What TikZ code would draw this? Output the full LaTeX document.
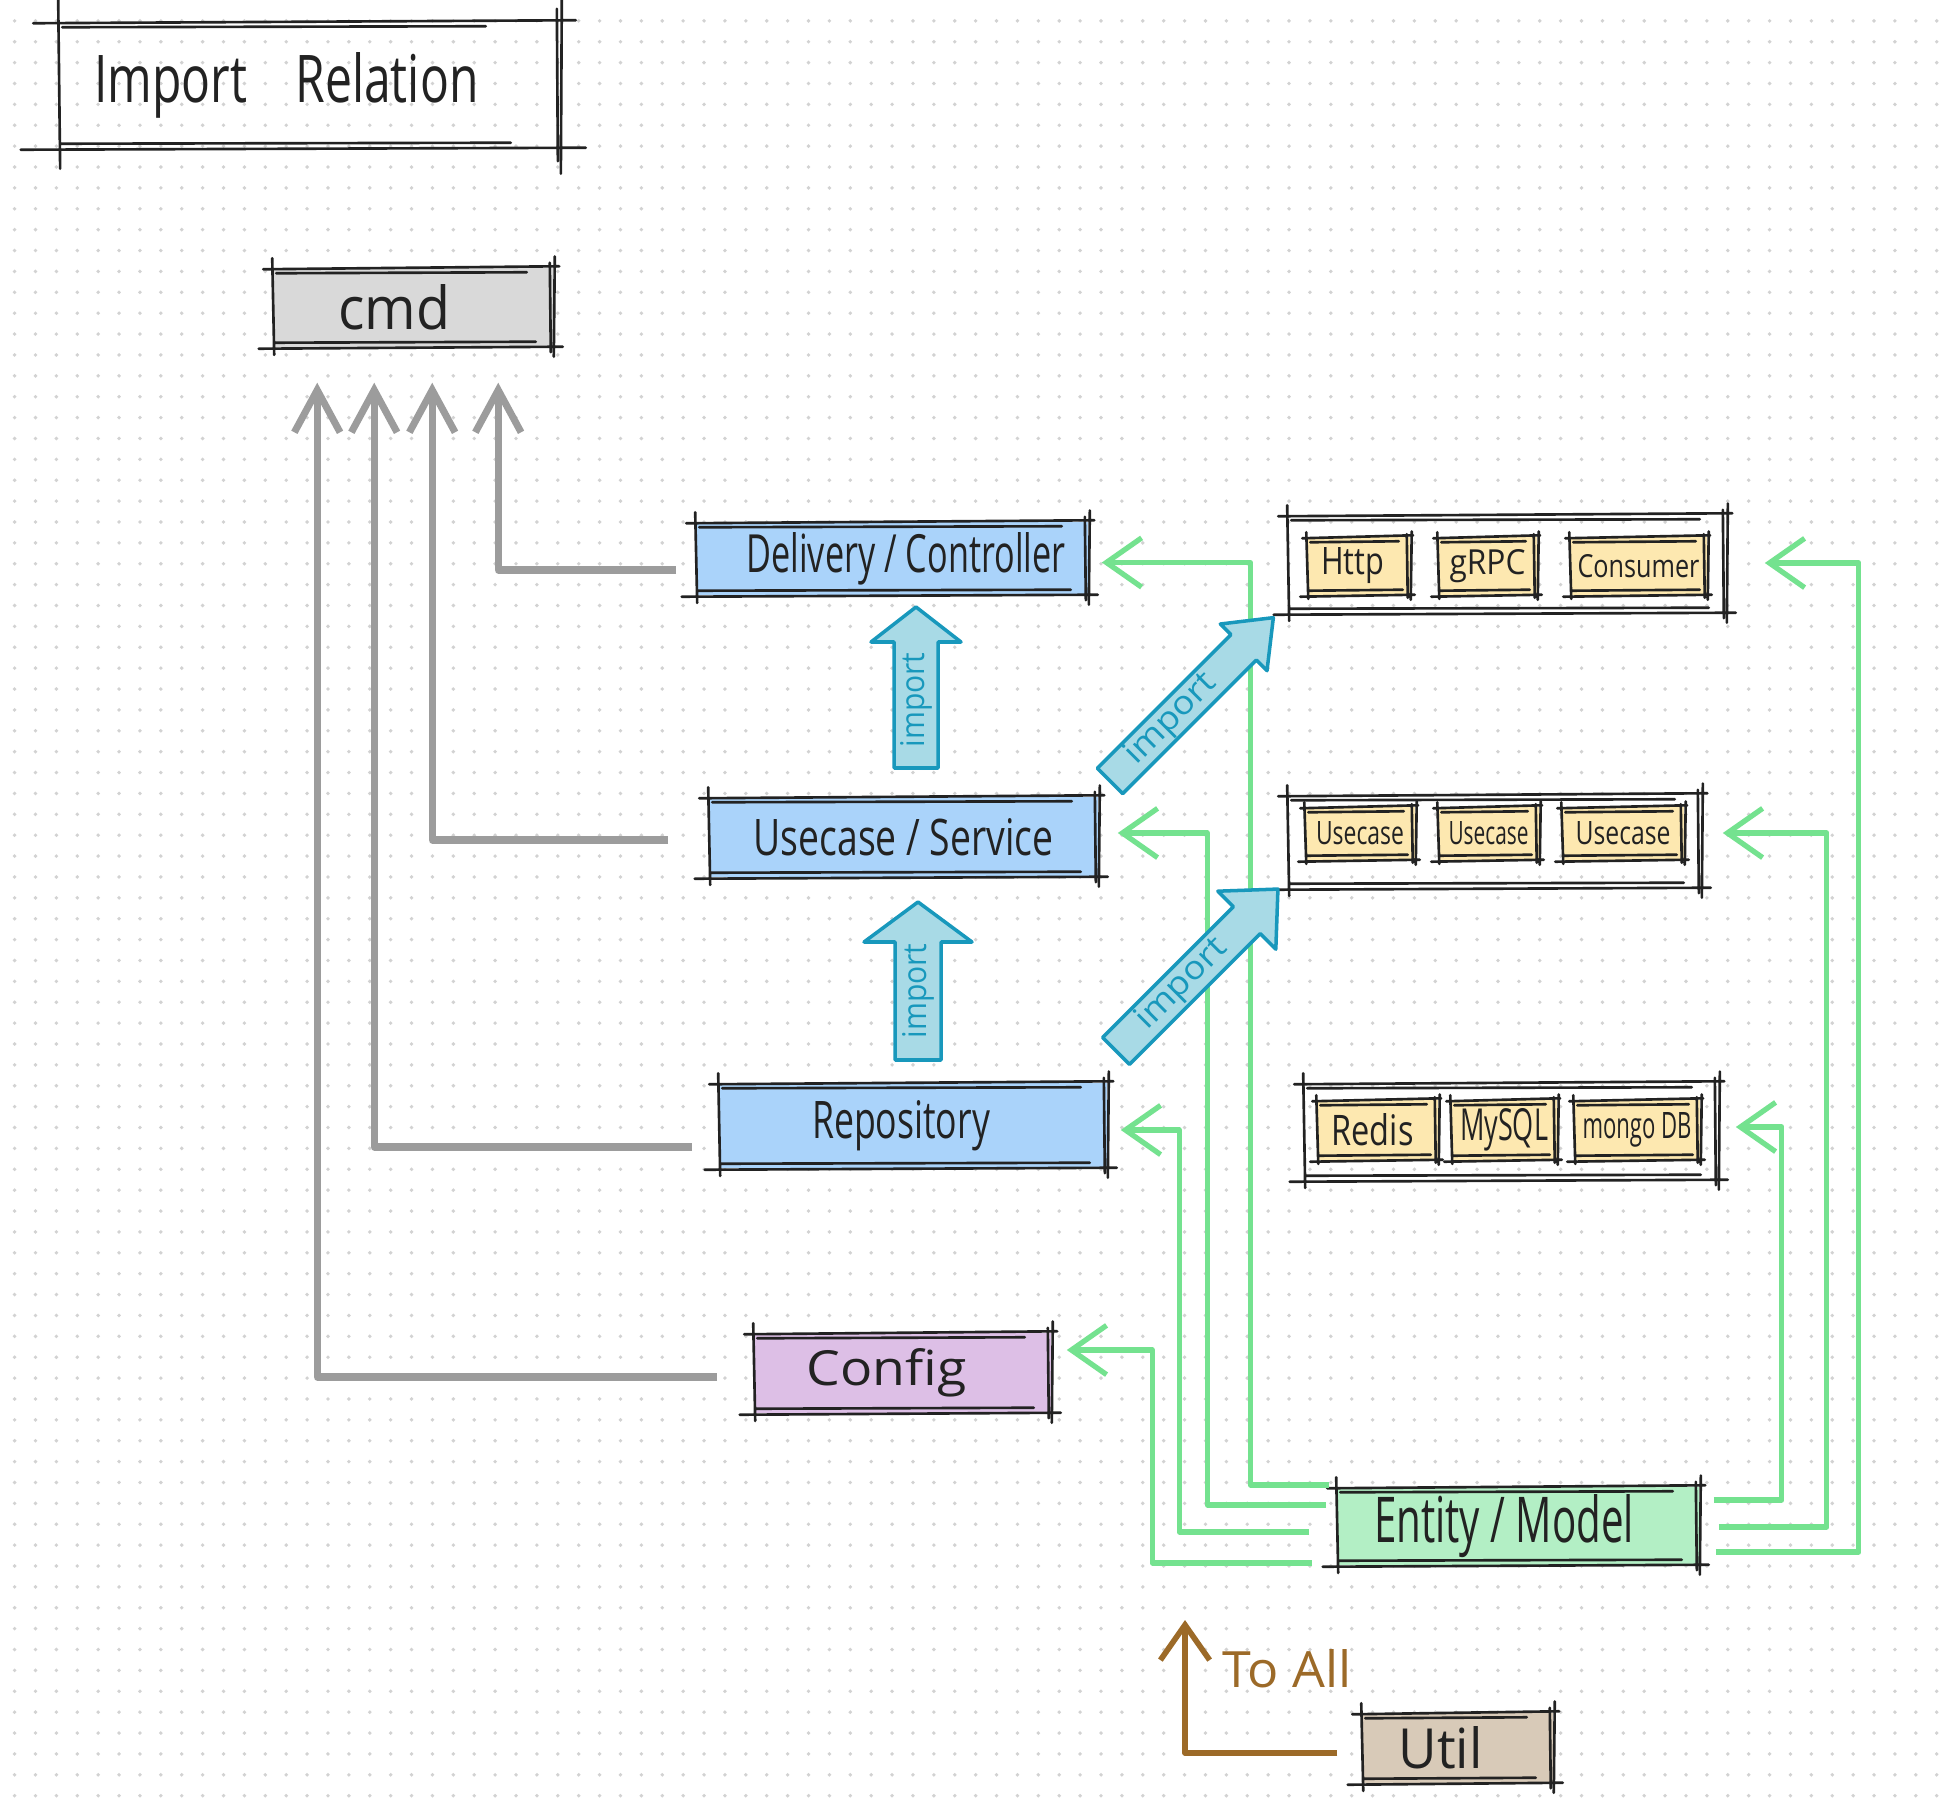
\documentclass[tikz,border=0pt]{standalone}
\usepackage{graphicx}
\usepackage{fontspec}
\setmainfont{Open Sans}
\usetikzlibrary{calc,arrows.meta}

\definecolor{ink}{HTML}{222222}
\definecolor{hlblue}{HTML}{AAD3FA}
\definecolor{hlgray}{HTML}{D9D9D9}
\definecolor{hlpurple}{HTML}{DDBFE6}
\definecolor{hlgreen}{HTML}{B3EFC5}
\definecolor{hlyellow}{HTML}{FDE8B0}
\definecolor{hltan}{HTML}{D8CAB8}
\definecolor{usegray}{HTML}{9C9C9C}
\definecolor{depgreen}{HTML}{74E28F}
\definecolor{allbrown}{HTML}{9C6A28}
\definecolor{impfill}{HTML}{A8DAE6}
\definecolor{impline}{HTML}{1898BC}
\definecolor{dotgray}{HTML}{D2D2D2}

\newlength\pxu
\setlength\pxu{0.01cm}
% handwritten-ish label squeezed to width x height (in px), [#1] shifts it sideways
\newcommand\hand[4][0]{\kern#1\pxu\kern#1\pxu\resizebox{#2\pxu}{#3\pxu}{#4}}

% sketchy double-lined frame round a node, #1 = overshoot
\newcommand\sketchframe[2][8]{%
  \draw[frame] ($(#2.north west)+(-#1,2)$) -- ($(#2.north east)+(0.6*#1,-1)$)
               ($(#2.north west)+(4,6)$) -- ($(#2.north east)+(-3*#1,5)$)
               ($(#2.south west)+(-1.5*#1,1)$) -- ($(#2.south east)+(#1,-1)$)
               ($(#2.south west)+(3,-5)$) -- ($(#2.south east)+(-2*#1,-6)$)
               ($(#2.north west)+(0,-#1)$) -- ($(#2.south west)+(2,0.8*#1)$)
               ($(#2.north east)+(1,-1.2*#1)$) -- ($(#2.south east)+(0,#1)$)
               ($(#2.north east)+(-4,-0.5*#1)$) -- ($(#2.south east)+(-3,0.5*#1)$);
}

% fat "import" arrow: base, angle, length, half shaft, half head, head length, text pos, text width
\newcommand\importarrow[8]{%
  \begin{scope}[shift={(#1)},rotate=#2]
    \draw[imparrow] (0,-#4) -- (#3-#6,-#4) -- (#3-#6,-#5) -- (#3,0)
      -- (#3-#6,#5) -- (#3-#6,#4) -- (0,#4) -- cycle;
    \node[imptext,transform shape] at (#7,0) {\hand{#8}{24}{import}};
  \end{scope}
}

\tikzset{
  box/.style={inner sep=0pt, text=ink},
  layer/.style={box, fill=hlblue},
  cmdbox/.style={box, fill=hlgray},
  cfgbox/.style={box, fill=hlpurple},
  entbox/.style={box, fill=hlgreen},
  utilbox/.style={box, fill=hltan},
  impl/.style={box, fill=hlyellow},
  frame/.style={draw=ink, line width=0.75pt, line cap=round},
  uses/.style={draw=usegray, line width=2pt, line join=round,
               -{Straight Barb[length=12pt,width=13pt]}},
  dep/.style={draw=depgreen, line width=1.5pt, line join=round,
              -{Straight Barb[length=10pt,width=14pt]}},
  toall/.style={draw=allbrown, line width=1.6pt, line join=round,
                -{Straight Barb[length=10pt,width=14pt]}},
  imparrow/.style={fill=impfill, draw=impline, line width=1pt, line join=round},
  imptext/.style={inner sep=0pt, text=impline},
  dotrow/.style={draw=dotgray, line width=1.1pt, line cap=round,
                 dash pattern=on 0pt off 0.2088cm}
}

\begin{document}
\begin{tikzpicture}[x=0.01cm,y=-0.01cm]
  \useasboundingbox (0,0) rectangle (1943,1813);
  \fill[white] (0,0) rectangle (1943,1813);
  \foreach \r in {1,...,86}
    \draw[dotrow] (14.6,\r*20.88) -- (1943,\r*20.88);

  % title and layers
  \node[box,minimum width=5.01cm,minimum height=1.26cm] (title) at (309.5,85)
    {\hand[-23]{384}{50}{Import\quad Relation}};
  \node[cmdbox,minimum width=2.80cm,minimum height=0.79cm] (cmd) at (413,307.5)
    {\hand[-19]{112}{45}{cmd}};
  \node[layer,minimum width=3.92cm,minimum height=0.73cm] (deliv) at (892,558.5)
    {\hand[14]{319}{40}{Delivery / Controller}};
  \node[layer,minimum width=3.89cm,minimum height=0.80cm] (usecase) at (903.5,837)
    {\hand{300}{37}{Usecase / Service}};
  \node[layer,minimum width=3.88cm,minimum height=0.85cm] (repo) at (913,1125.5)
    {\hand[-12]{178}{38}{Repository}};
  \node[cfgbox,minimum width=2.97cm,minimum height=0.80cm] (config) at (902.5,1373)
    {\hand[-16]{160}{37}{Config}};
  \node[entbox,minimum width=3.62cm,minimum height=0.78cm] (entity) at (1518,1526)
    {\hand[-14]{260}{48}{Entity / Model}};
  \node[utilbox,minimum width=1.91cm,minimum height=0.70cm] (util) at (1457.5,1748)
    {\hand[-17]{84}{42}{Util}};

  % implementations
  \node[box,minimum width=4.38cm,minimum height=0.98cm] (ifaces) at (1507,564) {};
  \node[impl,minimum width=1.03cm,minimum height=0.58cm] (http) at (1358.5,566)
    {\hand[-6]{63}{27}{Http}};
  \node[impl,minimum width=0.99cm,minimum height=0.58cm] (grpc) at (1487.5,566)
    {\hand{76}{25}{gRPC}};
  \node[impl,minimum width=1.37cm,minimum height=0.58cm] (consumer) at (1638.5,566)
    {\hand{122}{23}{Consumer}};

  \node[box,minimum width=4.13cm,minimum height=0.93cm] (ucases) at (1494.5,841.5) {};
  \node[impl,minimum width=1.10cm,minimum height=0.53cm] (uc1) at (1360,833.5)
    {\hand{88}{23}{Usecase}};
  \node[impl,minimum width=1.01cm,minimum height=0.53cm] (uc2) at (1488.5,833.5)
    {\hand{80}{23}{Usecase}};
  \node[impl,minimum width=1.22cm,minimum height=0.53cm] (uc3) at (1623,833.5)
    {\hand{95}{23}{Usecase}};

  \node[box,minimum width=4.14cm,minimum height=0.97cm] (stores) at (1511,1131.5) {};
  \node[impl,minimum width=1.21cm,minimum height=0.60cm] (redis) at (1377.5,1130)
    {\hand[-5]{82}{32}{Redis}};
  \node[impl,minimum width=1.06cm,minimum height=0.60cm] (mysql) at (1504,1130)
    {\hand{88}{32}{MySQL}};
  \node[impl,minimum width=1.26cm,minimum height=0.60cm] (mongo) at (1637,1130)
    {\hand{109}{26}{mongo DB}};

  \sketchframe[25]{title}
  \foreach \n in {cmd,deliv,usecase,repo,config,entity,util,ifaces,ucases,stores}
    \sketchframe[9]{\n};
  \foreach \n in {http,grpc,consumer,uc1,uc2,uc3,redis,mysql,mongo}
    \sketchframe[4]{\n};

  % everything is imported by cmd
  \coordinate (c1) at ($(cmd.south west)+(45,35)$);
  \coordinate (c2) at ($(cmd.south west)+(102,35)$);
  \coordinate (c3) at ($(cmd.south west)+(160,35)$);
  \coordinate (c4) at ($(cmd.south west)+(226,35)$);
  \draw[uses] ($(deliv.west)+(-19,11.5)$) -| (c4);
  \draw[uses] ($(usecase.west)+(-40,3)$) -| (c3);
  \draw[uses] ($(repo.west)+(-26,21.5)$) -| (c2);
  \draw[uses] ($(config.west)+(-36,4)$) -| (c1);

  % entity is imported everywhere
  \draw[dep] ($(entity.west)+(-7,-41)$) -- ++(-79,0) |- ($(deliv.east)+(13,4)$);
  \draw[dep] ($(entity.west)+(-10,-21)$) -- ++(-119,0) |- ($(usecase.east)+(19,-4)$);
  \draw[dep] ($(entity.west)+(-27,6)$) -- ++(-130,0) |- ($(repo.east)+(13,4.5)$);
  \draw[dep] ($(entity.west)+(-24,37)$) -- ++(-160,0) |- ($(config.east)+(15,-23)$);
  \draw[dep] ($(entity.east)+(14,-26)$) -- ++(68,0) |- ($(stores.east)+(17,-4.5)$);
  \draw[dep] ($(entity.east)+(19,1)$) -- ++(108,0) |- ($(ucases.east)+(21,-8.5)$);
  \draw[dep] ($(entity.east)+(16,26)$) -- ++(143,0) |- ($(ifaces.east)+(38,-1)$);

  % import arrows between layers
  \importarrow{916,768}{90}{161}{22}{45}{35}{68}{95}
  \importarrow{918,1060}{90}{158}{23}{54}{40}{69}{95}
  \importarrow{1110,781}{45}{231}{18}{33}{42}{87}{115}
  \importarrow{1116,1051}{45}{229}{19}{41}{44}{94}{115}

  % util
  \coordinate (all) at (1185,1620);
  \draw[toall] ($(util.west)+(-24,5)$) -| (all);
  \node[box,text=allbrown] (toalltxt) at (1287,1669) {\hand{129}{38}{To All}};

\end{tikzpicture}
\end{document}
